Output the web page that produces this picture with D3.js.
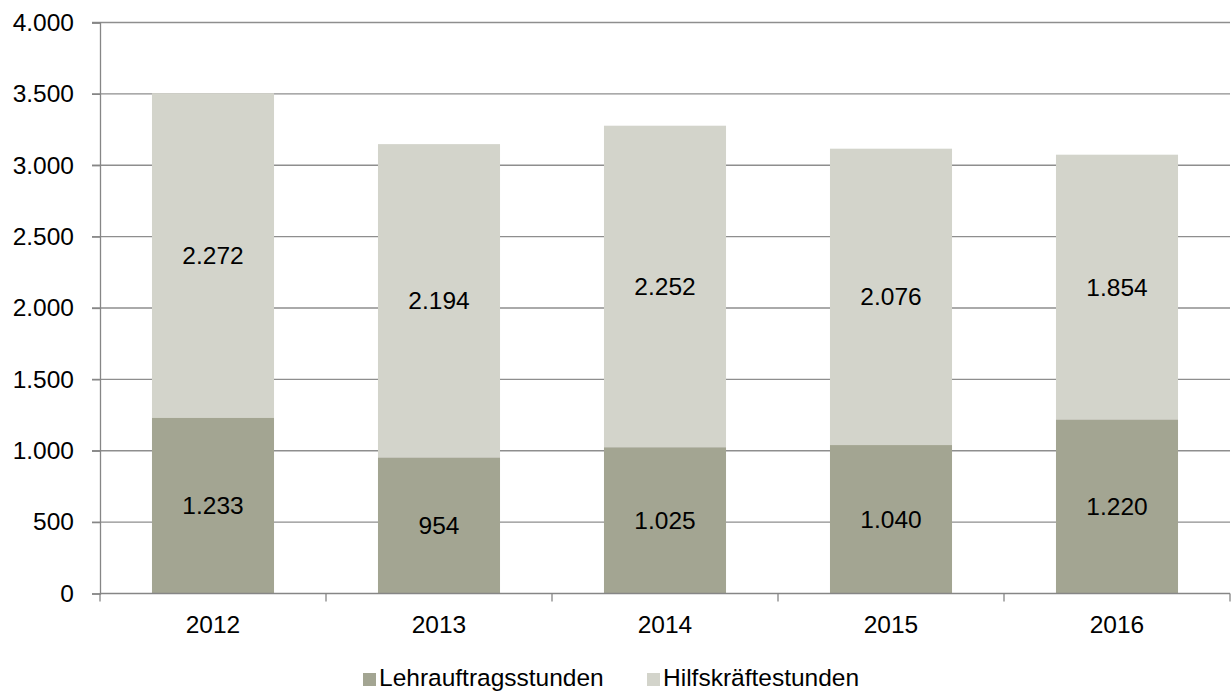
<!DOCTYPE html>
<html>
<head>
<meta charset="utf-8">
<script src="https://cdn.jsdelivr.net/npm/d3@7"></script>
<style>
  body { margin: 0; background: #fff; }
  svg text { font-family: "Liberation Sans", Arial, sans-serif; fill: #000; }
</style>
</head>
<body>
<svg id="chart" width="1231" height="695"></svg>
<script>
const years = ['2012', '2013', '2014', '2015', '2016']
const lehrauftrag = [1233, 954, 1025, 1040, 1220]
const hilfskraefte = [2272, 2194, 2252, 2076, 1854]
const seriesNames = ['Lehrauftragsstunden', 'Hilfskräftestunden']
const seriesColors = ['#a3a592', '#d3d4cb']
const yTicks = [0, 500, 1000, 1500, 2000, 2500, 3000, 3500, 4000]

const de = d3.formatLocale({ decimal: ',', thousands: '.', grouping: [3], currency: ['', ' €'] })
const fmt = de.format(',d')
const fontSize = 24.5

const rows = years.map((y, i) => ({ year: y, Lehrauftragsstunden: lehrauftrag[i], 'Hilfskräftestunden': hilfskraefte[i] }))
const stacked = d3.stack().keys(seriesNames)(rows)

const svg = d3.select('#chart')
const plot = { left: 100, right: 1230, top: 22.5, bottom: 593.5 }

const x = d3.scaleBand().domain(years).range([plot.left, plot.right]).paddingInner(0.46).paddingOuter(0.23)
const xOuter = d3.scaleBand().domain(years).range([plot.left, plot.right])
const y = d3.scaleLinear().domain([0, 4000]).range([plot.bottom, plot.top])

// gridlines
svg.append('g')
  .selectAll('line')
  .data(yTicks.filter(t => t > 0))
  .join('line')
    .attr('x1', plot.left - 8).attr('x2', plot.right)
    .attr('y1', d => y(d)).attr('y2', d => y(d))
    .attr('stroke', '#8e8e8e').attr('stroke-width', 1.3)

// bars
const colors = d3.scaleOrdinal(seriesNames, seriesColors)
svg.append('g')
  .selectAll('g')
  .data(stacked)
  .join('g')
    .attr('fill', d => colors(d.key))
  .selectAll('rect')
  .data(d => d)
  .join('rect')
    .attr('x', d => x(d.data.year))
    .attr('width', x.bandwidth())
    .attr('y', d => y(d[1]))
    .attr('height', d => y(d[0]) - y(d[1]))

// value labels
stacked.forEach(s => {
  svg.append('g')
    .selectAll('text')
    .data(s)
    .join('text')
      .attr('x', d => x(d.data.year) + x.bandwidth() / 2)
      .attr('y', d => y((d[0] + d[1]) / 2))
      .attr('dy', '0.35em')
      .attr('text-anchor', 'middle')
      .attr('font-size', fontSize)
      .text(d => fmt(d[1] - d[0]))
})

// y axis
const yAxis = d3.axisLeft(y).tickValues(yTicks).tickFormat(fmt).tickSize(8).tickPadding(18)
const gy = svg.append('g').attr('transform', `translate(${plot.left},0)`).call(yAxis)
gy.select('.domain').attr('stroke', '#868686').attr('stroke-width', 1.3)
gy.selectAll('.tick line').attr('stroke', '#868686').attr('stroke-width', 1.3)
gy.selectAll('.tick text').attr('font-size', fontSize).attr('font-family', '"Liberation Sans", Arial, sans-serif').attr('fill', '#000')

// x axis with ticks between categories
const gx = svg.append('g').attr('transform', `translate(0,${plot.bottom})`)
gx.append('line').attr('x1', plot.left).attr('x2', plot.right).attr('stroke', '#868686').attr('stroke-width', 1.3)
gx.selectAll('line.tk')
  .data(years.map(d => xOuter(d)).concat([plot.right]))
  .join('line')
    .attr('class', 'tk')
    .attr('x1', d => d).attr('x2', d => d)
    .attr('y1', 0).attr('y2', 8)
    .attr('stroke', '#868686').attr('stroke-width', 1.3)
gx.selectAll('text')
  .data(years)
  .join('text')
    .attr('x', d => xOuter(d) + xOuter.bandwidth() / 2)
    .attr('y', 39)
    .attr('text-anchor', 'middle')
    .attr('font-size', fontSize)
    .text(d => d)

// legend
const legendX = [363, 647]
const legend = svg.append('g')
seriesNames.forEach((name, i) => {
  legend.append('rect')
    .attr('x', legendX[i]).attr('y', 673)
    .attr('width', 13).attr('height', 13)
    .attr('fill', seriesColors[i])
  legend.append('text')
    .attr('x', legendX[i] + 16).attr('y', 686)
    .attr('font-size', fontSize)
    .text(name)
})
</script>
</body>
</html>
